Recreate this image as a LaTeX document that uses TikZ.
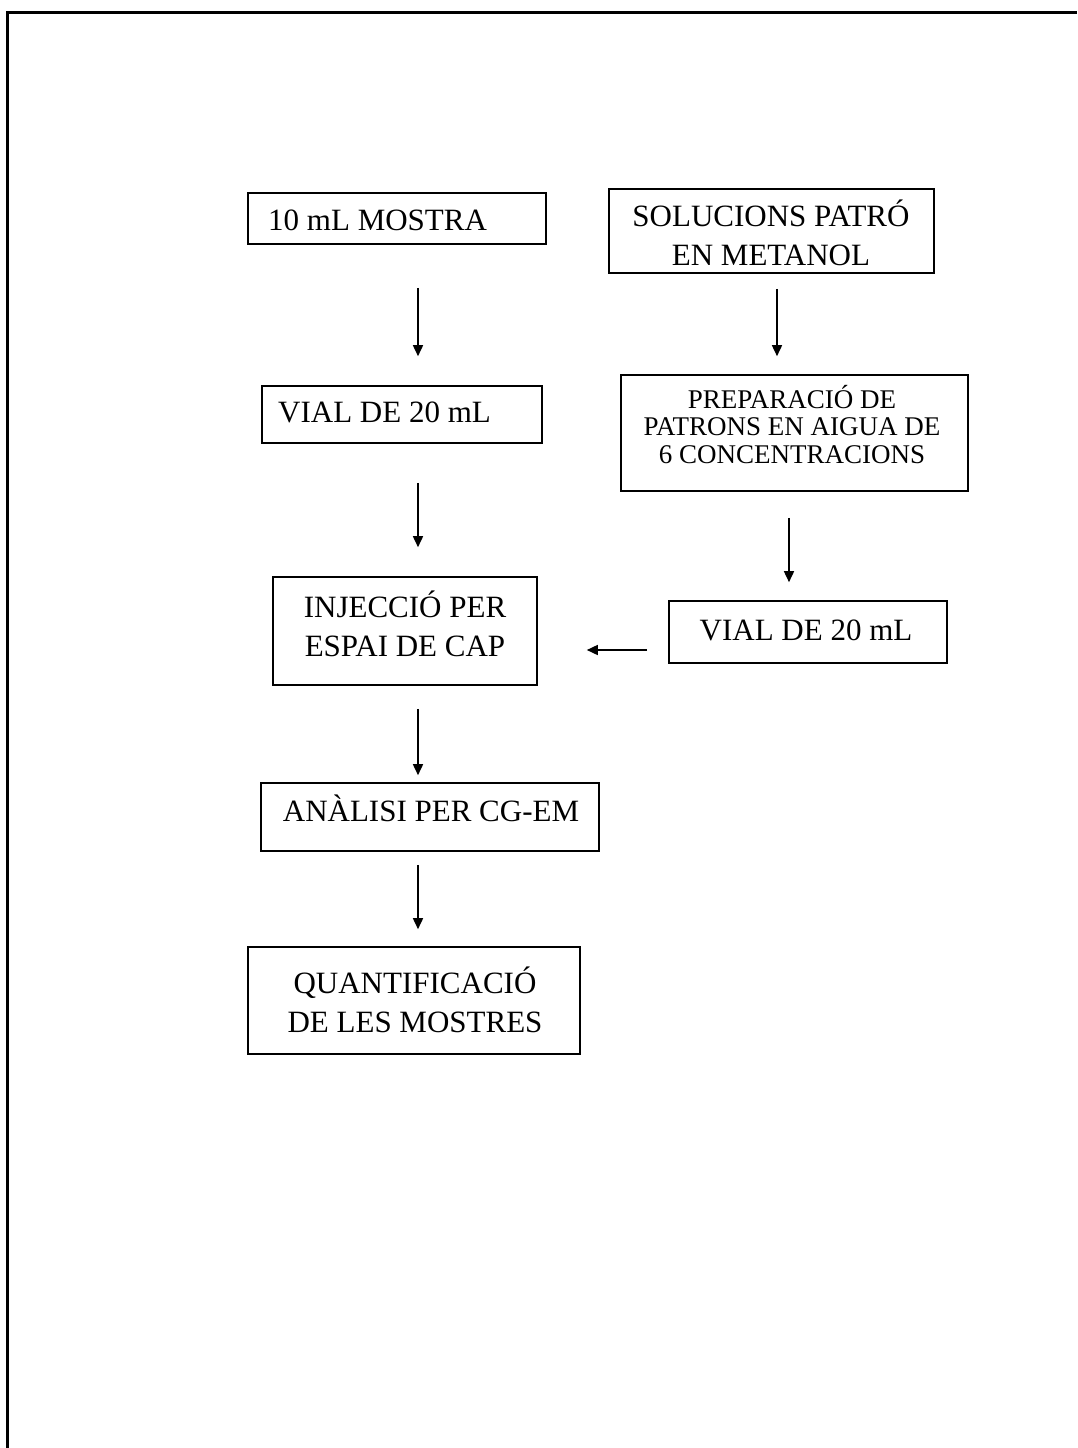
\documentclass[tikz,border=0pt]{standalone}
\usepackage{fontspec}
\setmainfont{Liberation Serif}
\usetikzlibrary{arrows.meta}
\begin{document}
\begin{tikzpicture}[x=1pt,y=-1pt,
  box/.style={draw=black,line width=1.6pt,inner sep=0pt,fill=none},
  txt/.style={inner sep=0pt,font=\fontsize{31}{39}\selectfont},
  txtsm/.style={inner sep=0pt,font=\fontsize{27}{27.5}\selectfont},
  arr/.style={draw=black,line width=1.6pt,-{Triangle[length=11pt,width=10pt]}}]
\useasboundingbox (0,0) rectangle (1077,1448);
\fill[white] (0,0) rectangle (1077,1448);
% outer frame (only left and top visible)
\draw[line width=3pt] (7,1448) -- (7,12) -- (1077,12);
% boxes
\node[box,minimum width=298pt,minimum height=51pt] (b1) at (397,218.5) {};
\node[box,minimum width=325pt,minimum height=84pt] (b2) at (771.5,231) {};
\node[box,minimum width=280pt,minimum height=57pt] (b3) at (402,414.5) {};
\node[box,minimum width=347pt,minimum height=116pt] (b4) at (794.5,433) {};
\node[box,minimum width=264pt,minimum height=108pt] (b5) at (405,631) {};
\node[box,minimum width=278pt,minimum height=62pt] (b6) at (808,632) {};
\node[box,minimum width=338pt,minimum height=68pt] (b7) at (430,817) {};
\node[box,minimum width=332pt,minimum height=107pt] (b8) at (414,1000.5) {};
% texts (multi-line nodes anchored at the baseline of their last line)
\node[txt,anchor=base west] (t1) at (268,230) {10 mL MOSTRA};
\node[txt,anchor=base,align=center] (t2) at (771,265) {SOLUCIONS PATRÓ\\EN METANOL};
\node[txt,anchor=base west] (t3) at (278,422) {VIAL DE 20 mL};
\node[txtsm,anchor=base,align=center] (t4) at (792,463) {PREPARACIÓ DE\\PATRONS EN AIGUA DE\\6 CONCENTRACIONS};
\node[txt,anchor=base,align=center] (t5) at (405,656) {INJECCIÓ PER\\ESPAI DE CAP};
\node[txt,anchor=base] (t6) at (806,640) {VIAL DE 20 mL};
\node[txt,anchor=base] (t7) at (431,821) {ANÀLISI PER CG-EM};
\node[txt,anchor=base,align=center] (t8) at (415,1032) {QUANTIFICACIÓ\\DE LES MOSTRES};
% arrows
\draw[arr] ([xshift=21pt,yshift=-43pt]b1.south) -- ([xshift=16pt,yshift=29pt]b3.north);
\draw[arr] ([xshift=5.5pt,yshift=-15pt]b2.south) -- ([xshift=-17.5pt,yshift=18pt]b4.north);
\draw[arr] ([xshift=16pt,yshift=-39pt]b3.south) -- ([xshift=13pt,yshift=29pt]b5.north);
\draw[arr] ([xshift=-5.5pt,yshift=-26pt]b4.south) -- ([xshift=-19pt,yshift=18pt]b6.north);
\draw[arr] ([xshift=-21pt,yshift=-18pt]b6.west) -- ([xshift=49pt,yshift=-19pt]b5.east);
\draw[arr] ([xshift=13pt,yshift=-23pt]b5.south) -- ([xshift=-12pt,yshift=7pt]b7.north);
\draw[arr] ([xshift=-12pt,yshift=-13pt]b7.south) -- ([xshift=4pt,yshift=17pt]b8.north);
\end{tikzpicture}
\end{document}
